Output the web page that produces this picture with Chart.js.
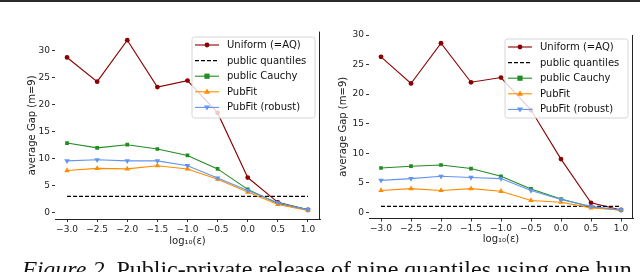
<!DOCTYPE html>
<html><head><meta charset="utf-8">
<script src="https://cdn.jsdelivr.net/npm/chart.js@4.4.0/dist/chart.umd.min.js"></script>
<style>
html,body{margin:0;padding:0;background:#fff;width:640px;height:272px;overflow:hidden;position:relative}
#topline{position:absolute;left:0;top:0;width:640px;height:2px;background:#2b2b2b}
.wrap{position:absolute;top:0;height:260px}
#w1{left:0;width:330px}
#w2{left:320px;width:320px}
#cap{position:absolute;left:22px;top:257px;font-family:"Liberation Serif","Times New Roman",serif;font-size:24px;line-height:24px;white-space:nowrap;color:#111}
</style></head><body>
<div id="topline"></div>
<div class="wrap" id="w1"><canvas id="c1" width="330" height="260"></canvas></div>
<div class="wrap" id="w2"><canvas id="c2" width="320" height="260"></canvas></div>
<div id="cap"><i>Figure 2.</i> Public-private release of nine quantiles using one hun</div>
<script>
// ---- data ----
const xValues = [-3.0, -2.5, -2.0, -1.5, -1.0, -0.5, 0.0, 0.5, 1.0];
const xTickValues = [-3.0, -2.5, -2.0, -1.5, -1.0, -0.5, 0.0, 0.5, 1.0];
const yTickValues = [0, 5, 10, 15, 20, 25, 30];
const seriesNames = ['Uniform (=AQ)', 'public quantiles', 'public Cauchy', 'PubFit', 'PubFit (robust)'];
const xTitle = 'log\u2081\u2080(\u03b5)';
const yTitle = 'average Gap (m=9)';

// left panel
const leftUniform   = [28.8, 24.3, 32.0, 23.3, 24.5, 18.5, 6.5, 1.9, 0.5];
const leftQuantiles = [3.0, 3.0, 3.0, 3.0, 3.0, 3.0, 3.0, 3.0, 3.0];
const leftCauchy    = [12.9, 12.0, 12.6, 11.8, 10.6, 8.1, 4.3, 1.7, 0.55];
const leftPubFit    = [7.8, 8.2, 8.1, 8.7, 8.1, 6.2, 3.8, 1.5, 0.4];
const leftRobust    = [9.6, 9.8, 9.6, 9.6, 8.7, 6.4, 4.1, 1.8, 0.5];

// right panel
const rightUniform   = [26.3, 21.8, 28.6, 22.0, 22.8, 17.3, 9.0, 1.6, 0.4];
const rightQuantiles = [1.0, 1.0, 1.0, 1.0, 1.0, 1.0, 1.0, 1.0, 1.0];
const rightCauchy    = [7.5, 7.8, 8.0, 7.4, 6.1, 3.95, 2.25, 0.9, 0.35];
const rightPubFit    = [3.7, 4.0, 3.7, 4.0, 3.55, 2.0, 1.7, 0.75, 0.4];
const rightRobust    = [5.4, 5.7, 6.1, 5.9, 5.7, 3.7, 2.15, 1.0, 0.4];

// ---- styles ----
const seriesStyles = [
  {color: '#8b0000', style: 'circle', radius: 2.4, rotation: 0, dash: []},
  {color: '#000000', style: false, radius: 0, rotation: 0, dash: [4, 2]},
  {color: '#228b22', style: 'rect', radius: 2.6, rotation: 0, dash: []},
  {color: '#ff8c00', style: 'triangle', radius: 3.2, rotation: 0, dash: []},
  {color: '#6495ed', style: 'triangle', radius: 3.2, rotation: 180, dash: []}
];
const FONT = '"DejaVu Sans", sans-serif';

function drawMarker(ctx, st, x, y) {
  if (!st.style) return;
  ctx.save();
  ctx.fillStyle = st.color;
  ctx.setLineDash([]);
  const r = st.radius;
  ctx.beginPath();
  if (st.style === 'circle') {
    ctx.arc(x, y, r, 0, Math.PI * 2);
  } else if (st.style === 'rect') {
    ctx.rect(x - r, y - r, 2 * r, 2 * r);
  } else {
    const s = st.rotation === 180 ? -1 : 1;
    ctx.moveTo(x, y - s * r);
    ctx.lineTo(x + r * 0.95, y + s * r * 0.6);
    ctx.lineTo(x - r * 0.95, y + s * r * 0.6);
    ctx.closePath();
  }
  ctx.fill();
  ctx.restore();
}

const legendPlugin = {
  id: 'mplLegend',
  afterDatasetsDraw(chart, args, opts) {
    const ctx = chart.ctx, a = chart.chartArea;
    const w = opts.width, h = opts.height;
    const x0 = a.right - opts.marginRight - w, y0 = a.top + opts.marginTop;
    ctx.save();
    ctx.beginPath();
    const r = 2.5;
    ctx.moveTo(x0 + r, y0);
    ctx.arcTo(x0 + w, y0, x0 + w, y0 + h, r);
    ctx.arcTo(x0 + w, y0 + h, x0, y0 + h, r);
    ctx.arcTo(x0, y0 + h, x0, y0, r);
    ctx.arcTo(x0, y0, x0 + w, y0, r);
    ctx.closePath();
    ctx.fillStyle = 'rgba(255,255,255,0.8)';
    ctx.fill();
    ctx.strokeStyle = '#d6d6d6';
    ctx.lineWidth = 1;
    ctx.stroke();
    chart.data.datasets.forEach((ds, i) => {
      const st = seriesStyles[i];
      const y = y0 + opts.firstRow + i * opts.rowGap;
      ctx.beginPath();
      ctx.strokeStyle = st.color;
      ctx.lineWidth = 1.1;
      ctx.setLineDash(st.dash);
      ctx.moveTo(x0 + 3, y);
      ctx.lineTo(x0 + 27, y);
      ctx.stroke();
      drawMarker(ctx, st, x0 + 15, y);
      ctx.setLineDash([]);
      ctx.fillStyle = '#111';
      ctx.font = '10px ' + FONT;
      ctx.textBaseline = 'middle';
      ctx.textAlign = 'left';
      ctx.fillText(ds.label, x0 + 35, y + 0.5);
    });
    ctx.restore();
  }
};

const spinePlugin = {
  id: 'rightSpine',
  afterDraw(chart) {
    const ctx = chart.ctx, a = chart.chartArea;
    ctx.save();
    ctx.strokeStyle = '#222';
    ctx.lineWidth = 1;
    ctx.beginPath();
    const x = Math.round(a.right) - 0.5;
    ctx.moveTo(x, a.top);
    ctx.lineTo(x, a.bottom);
    ctx.stroke();
    ctx.restore();
  }
};

function makeChart(id, series, g) {
  const datasets = series.map((vals, i) => {
    const st = seriesStyles[i];
    return {
      label: seriesNames[i],
      data: xValues.map((x, k) => ({x: x, y: vals[k]})),
      borderColor: st.color,
      backgroundColor: st.color,
      borderWidth: 1.1,
      borderDash: st.dash,
      pointStyle: st.style,
      pointRadius: st.radius,
      pointRotation: st.rotation,
      pointBorderWidth: 0,
      pointHoverRadius: st.radius,
      tension: 0,
      order: 10 - i
    };
  });
  return new Chart(document.getElementById(id), {
    type: 'line',
    data: {datasets},
    plugins: [legendPlugin, spinePlugin],
    options: {
      responsive: false,
      animation: false,
      devicePixelRatio: 1,
      layout: {padding: {top: g.padTop, right: g.padRight, left: 0, bottom: 0}},
      plugins: {
        legend: {display: false},
        tooltip: {enabled: false},
        mplLegend: {width: g.legW, height: g.legH, marginRight: 5, marginTop: g.legTop, firstRow: 8, rowGap: 15.6}
      },
      scales: {
        x: {
          type: 'linear',
          min: -3.2, max: 1.2,
          afterBuildTicks: s => { s.ticks = xTickValues.map(v => ({value: v})); },
          afterFit: s => { s.height = g.xAxisH; },
          ticks: {
            autoSkip: false, maxRotation: 0, padding: 2, color: '#222',
            font: {family: FONT, size: 9},
            callback: v => (v < 0 ? '\u2212' : '') + Math.abs(v).toFixed(1)
          },
          grid: {display: true, drawOnChartArea: false, drawTicks: true, tickLength: 3, color: '#333'},
          border: {display: true, color: '#222', width: 1},
          title: {display: true, text: xTitle, color: '#222', font: {family: FONT, size: 10}, padding: {top: 0, bottom: g.xTitlePad}}
        },
        y: {
          type: 'linear',
          min: g.yMin, max: g.yMax,
          afterBuildTicks: s => { s.ticks = yTickValues.map(v => ({value: v})); },
          afterFit: s => { s.width = g.yAxisW; },
          ticks: {padding: 2, color: '#222', font: {family: FONT, size: 9}, callback: v => String(v)},
          grid: {display: true, drawOnChartArea: false, drawTicks: true, tickLength: 3, color: '#333'},
          border: {display: false},
          title: {display: true, text: yTitle, color: '#222', font: {family: FONT, size: 10}, padding: {top: g.yTitlePad, bottom: 0}}
        }
      }
    }
  });
}

makeChart('c1', [leftUniform, leftQuantiles, leftCauchy, leftPubFit, leftRobust], {
  padTop: 31.6, padRight: 10, yAxisW: 55, xAxisH: 41, yMin: -1.2, yMax: 33.6,
  yTitlePad: 26, xTitlePad: 13, legW: 123, legH: 81, legTop: 5.4
});
makeChart('c2', [rightUniform, rightQuantiles, rightCauchy, rightPubFit, rightRobust], {
  padTop: 35, padRight: 7, yAxisW: 49, xAxisH: 41.5, yMin: -1.05, yMax: 30.0,
  yTitlePad: 17, xTitlePad: 15, legW: 123, legH: 79, legTop: 4
});
</script>
</body></html>
